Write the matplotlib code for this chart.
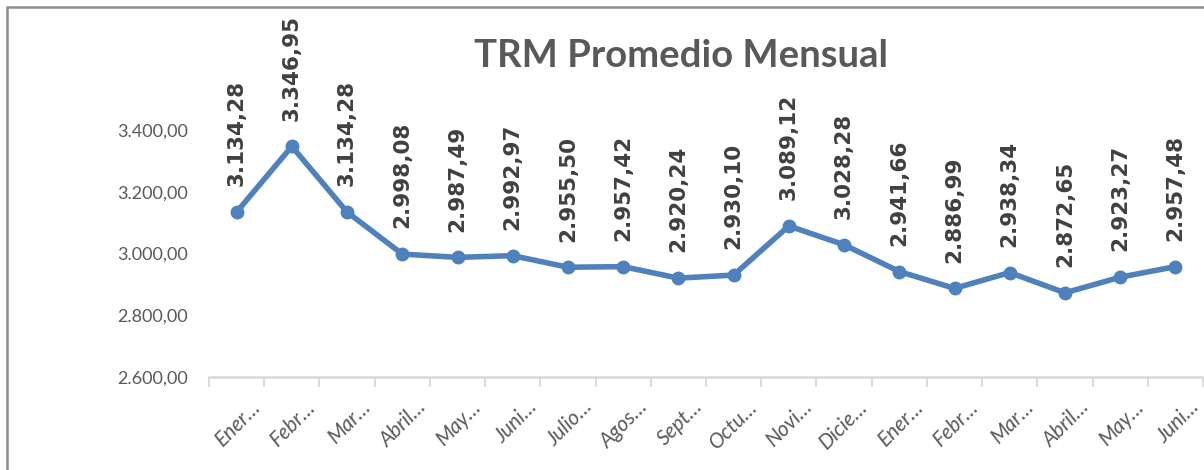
import matplotlib
matplotlib.use("Agg")
import matplotlib.pyplot as plt
from matplotlib.patches import Rectangle
from matplotlib.transforms import ScaledTranslation

categories = ["Ener…", "Febr…", "Mar…", "Abril…", "May…", "Juni…", "Julio…", "Agos…",
              "Sept…", "Octu…", "Novi…", "Dicie…", "Ener…", "Febr…", "Mar…", "Abril…",
              "May…", "Juni…"]
trm_values = [3134.28, 3346.95, 3134.28, 2998.08, 2987.49, 2992.97, 2955.50, 2957.42,
              2920.24, 2930.10, 3089.12, 3028.28, 2941.66, 2886.99, 2938.34, 2872.65,
              2923.27, 2957.48]
y_ticks = [2600, 2800, 3000, 3200, 3400]
title_text = "TRM Promedio Mensual"


def fmt_es(v):
    s = f"{v:,.2f}"
    return s.replace(",", "X").replace(".", ",").replace("X", ".")


W, H = 1204, 470
fig = plt.figure(figsize=(W / 100, H / 100), dpi=100)
fig.patch.set_facecolor("white")

# outer chart frame (top and left visible)
fig.patches.append(Rectangle((7 / W, -0.5), 2.0, (1 - 7 / H) + 0.5, transform=fig.transFigure,
                             fill=False, edgecolor="#8c8c8c", linewidth=1.8, zorder=0))

ax = fig.add_axes([209 / W, 1 - 377 / H, (1203 - 209) / W, (377 - 130) / H])
x = list(range(len(categories)))
ax.plot(x, trm_values, color="#4f81bd", linewidth=4.0, marker="o", markersize=9,
        solid_capstyle="round", clip_on=False, zorder=3)

for xi, v in zip(x, trm_values):
    ax.annotate(fmt_es(v), (xi, v), xytext=(0, 18.5), textcoords="offset points",
                rotation=90, ha="center", va="bottom", fontsize=15.5, fontweight="bold",
                color="#404040", family="DejaVu Sans", annotation_clip=False)

ax.set_xlim(-0.5, len(categories) - 0.5)
ax.set_ylim(2600, 3400)
ax.set_yticks(y_ticks)
ax.set_yticklabels([fmt_es(v) for v in y_ticks], family="Lato", fontsize=13, color="#595959")
ax.tick_params(axis="y", length=0, pad=15)

ax.set_xticks([i + 0.5 for i in range(-1, len(categories))], minor=True)
ax.set_xticks(x)
ax.set_xticklabels(categories, rotation=45, ha="right", va="top", rotation_mode="anchor",
                   family="Lato", style="italic", fontsize=15, color="#595959")
ax.tick_params(axis="x", which="major", length=0, pad=14)
ax.tick_params(axis="x", which="minor", length=7, width=1.3, color="#d9d9d9")
shift = ScaledTranslation(14 / 100, 0, fig.dpi_scale_trans)
for lbl in ax.get_xticklabels():
    lbl.set_transform(lbl.get_transform() + shift)

for s in ["top", "right", "left"]:
    ax.spines[s].set_visible(False)
ax.spines["bottom"].set_color("#d9d9d9")
ax.spines["bottom"].set_linewidth(1.8)
ax.set_facecolor("none")

fig.text(681 / W, 1 - 56 / H, title_text, ha="center", va="center", family="Lato",
         fontweight="bold", fontsize=27.5, color="#595959")

fig.savefig("out.png", dpi=100, facecolor="white")
